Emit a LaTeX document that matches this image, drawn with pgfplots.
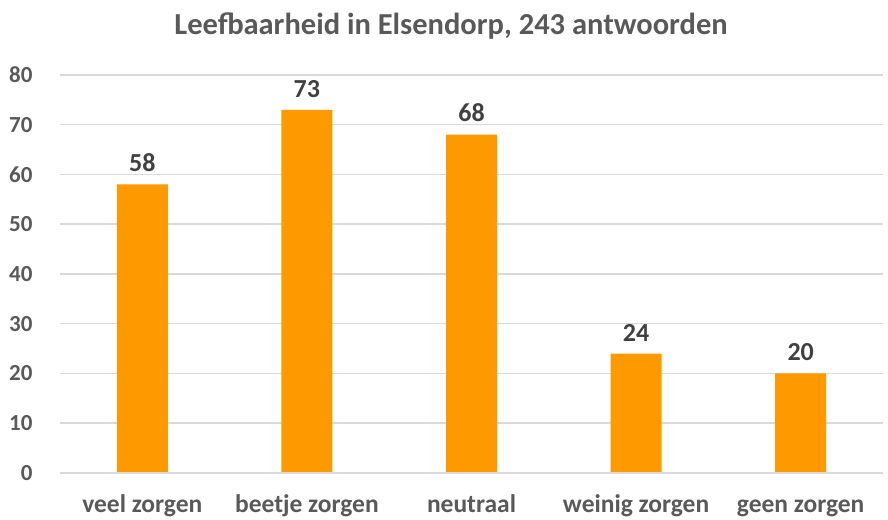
\documentclass[border=0pt]{standalone}
\usepackage{pgfplots}
\pgfplotsset{compat=1.18}
\usepackage{fontspec}
\setmainfont{Carlito}
\definecolor{barorange}{HTML}{FF9900}
\definecolor{txtgray}{HTML}{595959}
\definecolor{valgray}{HTML}{404040}
\definecolor{gridgray}{HTML}{D9D9D9}
\begin{document}
\begin{tikzpicture}[x=1pt,y=1pt]
\useasboundingbox (0,0) rectangle (888,519);
\node[font=\fontsize{30.5}{36}\selectfont\bfseries, text=txtgray, anchor=base] at (451,484) {Leefbaarheid in Elsendorp, 243 antwoorden};
\begin{axis}[
  at={(60pt,46pt)}, anchor=south west,
  scale only axis, width=823pt, height=398pt,
  xmin=-0.5, xmax=4.5, ymin=0, ymax=80,
  ytick={0,10,...,80},
  xtick={0,1,2,3,4},
  xticklabels={veel zorgen, beetje zorgen, neutraal, weinig zorgen, geen zorgen},
  axis line style={draw=none},
  axis x line*=bottom,
  axis y line*=left,
  major tick length=0pt,
  ymajorgrids, grid style={gridgray, line width=1.5pt},
  tick label style={font=\fontsize{23}{27}\selectfont\bfseries, text=txtgray},
  xticklabel style={font=\fontsize{25.5}{30}\selectfont\bfseries, anchor=base, yshift=-39pt},
  /pgf/number format/assume math mode=true,
  yticklabel style={anchor=east, xshift=-24pt},
  nodes near coords,
  every node near coord/.append style={font=\fontsize{26}{30}\selectfont\bfseries, text=valgray, yshift=9pt},
]
\addplot[ybar, bar width=51pt, fill=barorange, draw=none] coordinates {(0,58) (1,73) (2,68) (3,24) (4,20)};
\draw[gridgray, line width=1.5pt] (axis cs:-0.5,0) -- (axis cs:4.5,0);
\end{axis}
\end{tikzpicture}
\end{document}
